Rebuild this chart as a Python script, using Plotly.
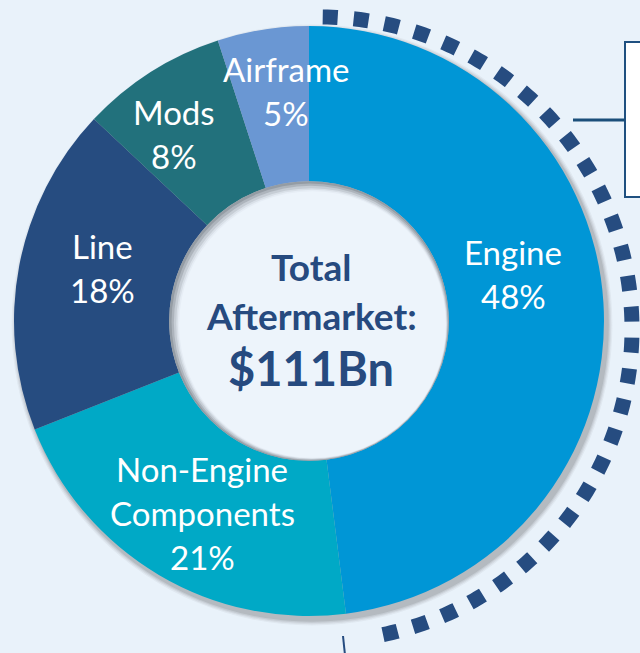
import numpy as np
import plotly.graph_objects as go

# ---- data ----
segments = ["Engine", "Non-Engine Components", "Line", "Mods", "Airframe"]
shares = [48, 21, 18, 8, 5]
colors = ["#0096d6", "#00a9c6", "#264c80", "#22717c", "#6a97d3"]
label_lines = [["Engine", "48%"], ["Non-Engine", "Components", "21%"],
               ["Line", "18%"], ["Mods", "8%"], ["Airframe", "5%"]]
center_lines = ["Total", "Aftermarket:", "$111Bn"]

W, H = 640, 653
CX, CY, R = 309, 321, 295
HOLE = 0.474

def px(x):
    return x / W

def py(y):
    return 1 - y / H

# label anchor (pixel) for first line of each label, and spacing
label_anchor = [(513, 252), (202, 469), (102, 246), (174, 112), (286, 69)]
LINE_GAP = 44

fig = go.Figure()
fig.add_trace(go.Pie(
    labels=segments, values=shares, sort=False, direction="clockwise",
    rotation=0, hole=HOLE, textinfo="none", hoverinfo="label+percent",
    marker=dict(colors=colors, line=dict(width=0)),
    domain=dict(x=[px(CX - R), px(CX + R)], y=[py(CY + R), py(CY - R)]),
    showlegend=False,
))

shapes = []
# outer drop shadow (below pie)
for d, op in [(9, 0.05), (7, 0.07), (5, 0.09), (3, 0.12)]:
    r = R + d * 0.6
    ox, oy = CX + 3, CY + 4
    shapes.append(dict(type="circle", xref="paper", yref="paper", layer="below",
                       x0=px(ox - r), x1=px(ox + r), y0=py(oy + r), y1=py(oy - r),
                       fillcolor=f"rgba(60,60,60,{op})", line=dict(width=0)))

# inner hole inset shadow (above pie)
HR = R * HOLE
steps = [("#949ca4", 0, 0), ("#adb4bc", 1.5, 1.2), ("#c6cdd5", 3, 2.4),
         ("#d9e0e8", 4.5, 3.6), ("#e6edf5", 5.5, 4.4), ("#edf4fb", 6.5, 5.0)]
for col, shrink, off in steps:
    r = HR - shrink
    ox, oy = CX + off * 0.7, CY + off * 0.7
    shapes.append(dict(type="circle", xref="paper", yref="paper", layer="above",
                       x0=px(ox - r), x1=px(ox + r), y0=py(oy + r), y1=py(oy - r),
                       fillcolor=col, line=dict(width=0)))

# dashed arc on the right
ACX, ACY, AR = 320, 329, 312
ang = np.radians(np.linspace(0.5, 171, 200))
xs = ACX + AR * np.sin(ang)
ys = ACY - AR * np.cos(ang)
path = "M " + " L ".join(f"{px(x):.5f},{py(y):.5f}" for x, y in zip(xs, ys))
shapes.append(dict(type="path", xref="paper", yref="paper", path=path, layer="above",
                   line=dict(color="#264c80", width=15, dash="15px,16px")))

# call-out box and connector at top right
shapes.append(dict(type="rect", xref="paper", yref="paper", layer="above",
                   x0=px(625), x1=px(650), y0=py(197), y1=py(42),
                   fillcolor="white", line=dict(color="#1f5080", width=2)))
shapes.append(dict(type="line", xref="paper", yref="paper", layer="above",
                   x0=px(573), x1=px(625), y0=py(120), y1=py(120),
                   line=dict(color="#1b4f7a", width=3)))
# small connector at bottom
shapes.append(dict(type="line", xref="paper", yref="paper", layer="above",
                   x0=px(343), x1=px(345), y0=py(636), y1=py(655),
                   line=dict(color="#264c80", width=2)))

annotations = []
for lines, (ax, ay) in zip(label_lines, label_anchor):
    for k, t in enumerate(lines):
        annotations.append(dict(x=px(ax), y=py(ay + k * LINE_GAP), xref="paper", yref="paper",
                                text=t, showarrow=False, xanchor="center", yanchor="middle",
                                font=dict(family="Lato", size=33, color="white")))

center_y = [267, 315, 368]
center_size = [37, 37, 47]
for t, yy, s in zip(center_lines, center_y, center_size):
    annotations.append(dict(x=px(311), y=py(yy), xref="paper", yref="paper",
                            text=f"<b>{t}</b>", showarrow=False, xanchor="center", yanchor="middle",
                            font=dict(family="Lato", size=s, color="#264a7f")))

fig.update_layout(width=W, height=H, margin=dict(l=0, r=0, t=0, b=0),
                  paper_bgcolor="#e9f2fa", plot_bgcolor="#e9f2fa",
                  shapes=shapes, annotations=annotations)
fig.write_html("out.html", config={"displayModeBar": False},
               post_script="document.body.style.margin='0';")
